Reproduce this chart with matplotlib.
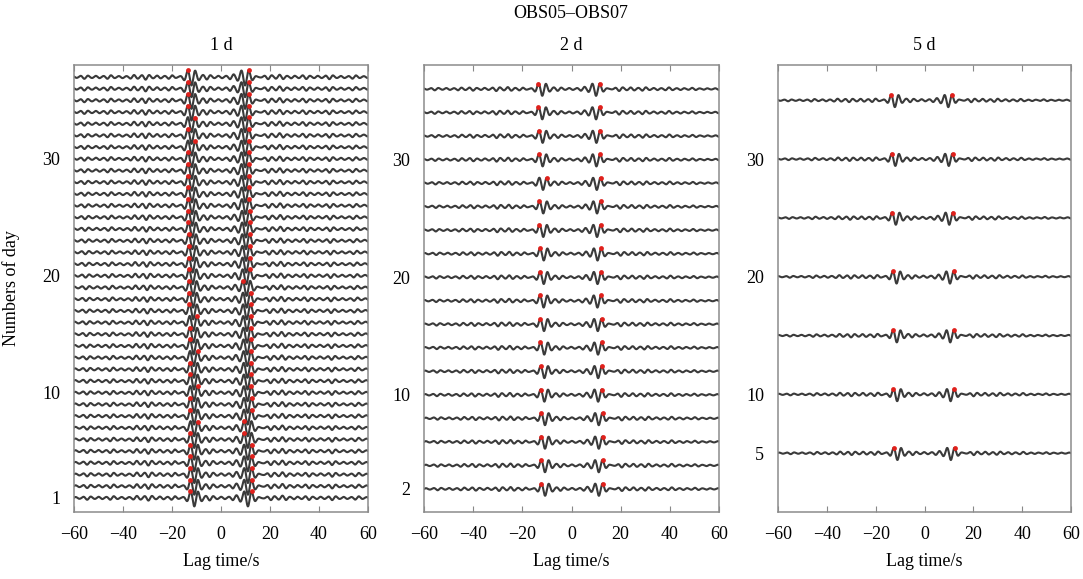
import numpy as np
import matplotlib.pyplot as plt

plt.rcParams['font.family'] = ['Liberation Serif', 'DejaVu Serif']

# lag axis of the correlation functions (s)
lag = np.linspace(-60, 60, 2401)

# wave packet
PERIOD = 3.125          # dominant period (s)
NEG_PEAK = -13.0        # picked peak, acausal branch
POS_PEAK = 12.0         # picked peak, causal branch
NEG_CENTER = -11.5      # envelope centre, acausal branch
POS_CENTER = 10.5       # envelope centre, causal branch

# background wiggle amplitude every 5 s (in day units)
coda_lags = [-60, -55, -50, -45, -40, -35, -30, -25, -20, -15, -10, -5, 0,
             5, 10, 15, 20, 25, 30, 35, 40, 45, 50, 55, 60]
coda_1d = [0.08, 0.15, 0.10, 0.16, 0.09, 0.17, 0.22, 0.12, 0.16, 0.0, 0.0, 0.20, 0.10,
           0.19, 0.0, 0.0, 0.18, 0.20, 0.11, 0.17, 0.10, 0.18, 0.09, 0.15, 0.08]
coda_2d = [0.06, 0.11, 0.08, 0.12, 0.14, 0.09, 0.17, 0.16, 0.12, 0.0, 0.0, 0.15, 0.08,
           0.15, 0.0, 0.0, 0.17, 0.13, 0.15, 0.09, 0.13, 0.08, 0.10, 0.06, 0.07]
coda_5d = [0.05, 0.08, 0.06, 0.11, 0.08, 0.13, 0.15, 0.12, 0.15, 0.0, 0.0, 0.15, 0.09,
           0.15, 0.0, 0.0, 0.16, 0.12, 0.14, 0.09, 0.11, 0.06, 0.08, 0.05, 0.06]
main_amp = [0.72, 0.58, 0.58]

# 1 d stacks
days_1d = list(range(1, 38))
drift_1d = [0.55, 0.55, 0.55, 0.5, 0.5, 0.5, 0.5, 0.45, 0.45, 0.4, 0.4,
            0.35, 0.3, 0.25, 0.2, 0.15, 0.1, 0.05, 0.0,
            -0.1, -0.15, -0.2, -0.25, -0.3, -0.35, -0.4, -0.45, -0.5,
            -0.55, -0.55, -0.55, -0.6, -0.6, -0.6, -0.6, -0.6, -0.6]
neg_skip_1d = [7, 10, 13, 16, 31, 33]
pos_skip_1d = [6, 7, 19]

# 2 d stacks
days_2d = list(range(2, 37, 2))
drift_2d = [0.7, 0.65, 0.65, 0.65, 0.4, 0.4, 0.35, 0.25, 0.1,
            0.15, 0.15, -0.05, -0.05, -0.15, -0.3, -0.3, -0.45, -0.45]
neg_skip_2d = [28]
pos_skip_2d = []

# 5 d stacks
days_5d = [5, 10, 15, 20, 25, 30, 35]
drift_5d = [0.35, 0.25, 0.1, 0.0, -0.3, -0.5, -0.7]
neg_skip_5d = []
pos_skip_5d = []

titles = ['1 d', '2 d', '5 d']
yticks = [[1, 10, 20, 30], [2, 10, 20, 30], [5, 10, 20, 30]]


def make_trace(drift, coda, amp):
    carrier = np.cos(2 * np.pi * (lag - NEG_PEAK - drift) / PERIOD)
    env = np.zeros_like(lag)
    for l, a in zip(coda_lags, coda):
        env += a * np.exp(-((lag - l - drift) / 2.4) ** 2)
    env += amp * np.exp(-((lag - NEG_CENTER - drift) / 3.0) ** 2)
    env += amp * np.exp(-((lag - POS_CENTER - drift) / 3.0) ** 2)
    return env * carrier


fig = plt.figure(figsize=(10.83, 5.79), dpi=100)
H = 579.0
W = 1083.0
boxes = [(74, 294), (424, 295), (778, 293)]
ylims = [(-0.2, 38.03), (0.04, 38.04), (0.0, 38.0)]
panels = [(days_1d, drift_1d, neg_skip_1d, pos_skip_1d, coda_1d),
          (days_2d, drift_2d, neg_skip_2d, pos_skip_2d, coda_2d),
          (days_5d, drift_5d, neg_skip_5d, pos_skip_5d, coda_5d)]

for i, (days, drift, nskip, pskip, coda) in enumerate(panels):
    x0, w = boxes[i]
    ax = fig.add_axes([x0 / W, 1 - 512 / H, w / W, 447 / H])
    for day, d in zip(days, drift):
        tr = make_trace(d, coda, main_amp[i])
        ax.plot(lag, day + tr, color='#3a3a3a', lw=1.5)
        neg = NEG_PEAK + d + (PERIOD if day in nskip else 0)
        pos = POS_PEAK + d - (PERIOD if day in pskip else 0)
        picks = np.array([neg, pos])
        ax.scatter(picks, day + np.interp(picks, lag, tr), s=12, color='#e0201b',
                   zorder=3, linewidths=0)
    ax.set_xlim(-60, 60)
    ax.set_ylim(*ylims[i])
    ax.set_xticks(range(-60, 61, 20))
    ax.set_yticks(yticks[i])
    ax.tick_params(axis='x', direction='in', top=True, length=4, width=0.8,
                   color='#888888', labelsize=13, pad=10)
    ax.tick_params(axis='y', length=0, labelsize=13, pad=10)
    for s in ax.spines.values():
        s.set_color('#8c8c8c')
        s.set_linewidth(1.1)
    ax.set_title(titles[i], fontsize=13, pad=11)
    ax.set_xlabel('Lag time/s', fontsize=13, labelpad=7)
    if i == 0:
        ax.set_ylabel('Numbers of day', fontsize=13)
        ax.yaxis.set_label_coords(-0.185, 0.5)

fig.text(571 / W, 1 - 14 / H, 'OBS05–OBS07', ha='center', va='center', fontsize=13)

fig.savefig('out.png', dpi=100)
